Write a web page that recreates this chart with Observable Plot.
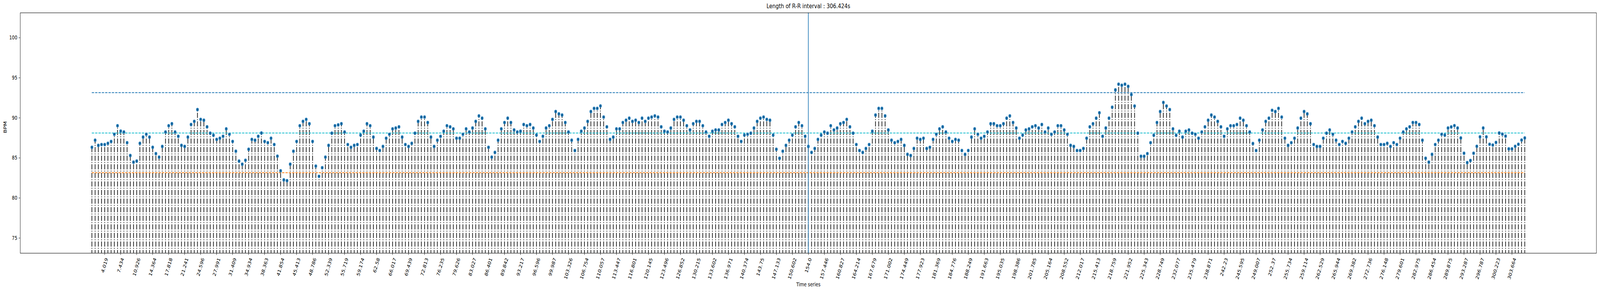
<!DOCTYPE html>
<html>
<head>
<meta charset="utf-8">
<script src="https://cdn.jsdelivr.net/npm/d3@7"></script>
<script src="https://cdn.jsdelivr.net/npm/@observablehq/plot@0.6"></script>
<style>
  html, body { margin: 0; padding: 0; background: #fff; width: 100%; height: 100%; overflow: hidden; }
  body { font-family: "DejaVu Sans", sans-serif; }
  ::-webkit-scrollbar { display: none; }
  #chart { width: 100vw; height: 100vh; }
  #chart svg { display: block; }
</style>
</head>
<body>
<div id="chart"></div>
<script>
// ---------- data ----------
const titleText = "Length of R-R interval : 306.424s";
const xLabel = "Time series";
const yLabel = "BPM";

// heart rate (BPM) of each beat, in order
const bpm = [
  86.33, 87.21, 86.57, 86.67, 86.67, 86.82, 87.05, 87.95, 89.02, 88.35,
  88.24, 86.90, 85.30, 84.47, 84.61, 86.82, 87.60, 87.95, 87.60, 86.33,
  85.54, 85.10, 86.43, 88.24, 89.02, 89.27, 88.24, 87.70, 86.57, 86.43,
  87.60, 89.17, 89.56, 91.03, 89.81, 89.71, 88.88, 88.09, 87.83, 87.31,
  87.46, 87.70, 88.63, 87.95, 87.06, 85.84, 84.61, 84.22, 84.71, 86.08,
  87.31, 87.21, 87.70, 88.11, 87.06, 86.90, 87.46, 86.67, 85.22, 83.39,
  82.26, 82.16, 84.22, 85.84, 87.06, 89.02, 89.56, 89.81, 89.27, 87.06,
  83.98, 82.70, 83.78, 85.10, 86.57, 88.09, 89.02, 89.12, 89.27, 88.24,
  86.67, 86.33, 86.57, 86.67, 87.85, 88.34, 89.27, 89.02, 87.60, 86.18,
  85.92, 86.43, 87.46, 87.95, 88.63, 88.73, 88.88, 87.60, 86.67, 86.43,
  86.82, 88.09, 89.56, 90.10, 90.10, 89.42, 87.60, 86.43, 87.21, 87.70,
  88.34, 89.02, 88.88, 88.63, 87.46, 87.46, 87.95, 88.63, 88.24, 88.73,
  89.56, 90.25, 89.96, 88.63, 86.33, 85.10, 85.69, 87.21, 88.63, 89.42,
  89.96, 89.42, 88.49, 88.24, 88.34, 89.17, 89.02, 89.17, 88.73, 87.85,
  87.06, 87.70, 88.73, 89.02, 89.81, 90.79, 90.50, 90.35, 89.42, 88.24,
  87.21, 85.92, 87.31, 88.34, 88.73, 89.56, 90.79, 91.18, 91.18, 91.49,
  90.10, 88.88, 87.31, 87.60, 88.63, 88.63, 89.42, 89.71, 89.96, 89.56,
  89.71, 89.42, 89.96, 89.56, 89.96, 90.10, 90.25, 90.10, 88.88, 88.34,
  88.24, 88.73, 89.81, 90.10, 90.10, 89.71, 89.02, 88.49, 89.27, 89.56,
  89.56, 89.02, 88.24, 87.70, 88.34, 88.49, 88.49, 89.17, 89.42, 89.71,
  89.27, 88.88, 87.70, 87.06, 87.85, 87.95, 88.09, 88.73, 89.56, 89.96,
  90.10, 89.81, 89.71, 87.85, 86.08, 84.96, 85.84, 86.57, 87.21, 87.85,
  88.88, 89.42, 89.02, 87.70, 86.43, 85.69, 86.18, 87.31, 87.85, 88.24,
  88.09, 89.02, 88.49, 88.73, 89.27, 89.42, 89.81, 88.88, 88.09, 86.67,
  85.92, 85.69, 86.18, 86.67, 88.34, 90.35, 91.18, 91.18, 90.25, 88.49,
  87.21, 86.90, 87.06, 87.31, 86.57, 85.45, 85.30, 86.18, 87.46, 87.31,
  87.46, 86.18, 86.33, 87.31, 87.95, 88.63, 88.88, 88.24, 87.46, 87.06,
  87.31, 87.21, 85.92, 85.45, 85.92, 87.60, 88.63, 87.95, 87.46, 87.70,
  88.24, 89.27, 89.27, 89.02, 89.02, 89.27, 89.96, 90.25, 89.42, 88.73,
  87.46, 87.85, 88.49, 88.63, 88.88, 89.02, 88.73, 89.17, 88.24, 88.73,
  87.95, 88.24, 89.02, 89.02, 88.49, 87.95, 86.57, 86.43, 85.92, 85.92,
  86.18, 87.46, 88.88, 89.27, 89.96, 90.64, 87.70, 88.73, 89.96, 91.33,
  93.49, 94.20, 94.07, 94.20, 93.93, 92.90, 91.48, 88.09, 85.20, 85.20,
  85.54, 86.90, 87.83, 89.42, 90.79, 91.92, 91.48, 91.03, 88.63, 87.83,
  88.34, 87.60, 88.34, 88.49, 88.09, 87.95, 87.46, 88.24, 88.88, 89.71,
  90.35, 90.10, 89.56, 88.88, 87.70, 88.63, 89.02, 89.02, 89.17, 89.96,
  89.71, 89.02, 88.24, 86.80, 85.92, 87.21, 88.49, 89.56, 89.96, 90.94,
  90.79, 91.18, 90.10, 87.46, 86.57, 86.90, 87.46, 88.73, 89.96, 90.79,
  90.50, 89.27, 86.67, 86.43, 86.43, 87.46, 88.09, 88.49, 87.95, 87.21,
  86.67, 87.06, 86.82, 87.46, 88.24, 88.88, 89.56, 89.96, 89.27, 89.56,
  89.71, 89.02, 87.60, 86.67, 86.67, 86.82, 86.43, 86.90, 86.67, 87.46,
  88.24, 88.63, 88.88, 89.42, 89.42, 89.17, 87.21, 84.96, 84.47, 85.45,
  86.67, 87.21, 87.95, 87.85, 88.73, 88.87, 89.03, 88.73, 87.49, 85.58,
  84.42, 84.68, 85.58, 86.45, 87.63, 88.73, 87.63, 86.70, 86.61, 86.93,
  88.11, 87.97, 87.72, 86.13, 86.13, 86.45, 86.70, 87.23, 87.49
];

// time (s) labels shown under every 5th beat, starting with the 5th beat
const tickLabels = [
  "4.019", "7.434", "10.926", "14.364", "17.818", "21.241", "24.596", "27.991", "31.409", "34.934",
  "38.363", "41.854", "45.413", "48.786", "52.339", "55.719", "59.174", "62.58", "66.017", "69.439",
  "72.813", "76.235", "79.626", "83.027", "86.401", "89.842", "93.217", "96.596", "99.987", "103.326",
  "106.754", "110.057", "113.447", "116.801", "120.145", "123.496", "126.852", "130.215", "133.602", "136.971",
  "140.374", "143.75", "147.133", "150.602", "154.0", "157.446", "160.827", "164.214", "167.679", "171.002",
  "174.449", "177.923", "181.369", "184.776", "188.249", "191.663", "195.035", "198.386", "201.785", "205.164",
  "208.552", "212.017", "215.413", "218.759", "221.952", "225.343", "228.749", "232.077", "235.479", "238.871",
  "242.23", "245.595", "249.007", "252.37", "255.734", "259.114", "262.529", "265.944", "269.382", "272.736",
  "276.148", "279.601", "282.975", "286.454", "289.875", "293.287", "296.787", "300.223", "303.664"
];
const tickFirstBeat = 4;
const tickEvery = 5;

// vertical marker at this time label
const markerLabel = "154.0";

// horizontal reference levels (upper, mean, lower) and their colours
const refLevels = [93.15, 88.11, 83.16];
const refColors = ["#1f77b4", "#17becf", "#ff7f0e"];

const yTicks = [75, 80, 85, 90, 95, 100];
const yDomain = [73.11, 103.11];

// ---------- chart ----------
const W = 5271, H = 746;
const n = bpm.length;
const beats = d3.range(n);
const ticks = tickLabels.map((label, k) => ({i: tickFirstBeat + tickEvery * k, label}));
const markerBeat = ticks.find(t => t.label === markerLabel).i;

const fs = 13.9;
const lw = 2.08;

const labelMarks = d3.groups(ticks, d => d.label.length).map(([len, arr]) => {
  const digits = arr[0].label.replace(".", "").length;
  const L = (digits * 0.636 + 0.318) * fs; // text length in px
  return Plot.text(arr, {
    x: "i", y: () => yDomain[0], text: "label",
    rotate: -70, textAnchor: "end", lineAnchor: "middle",
    dx: L * 0.171, dy: 12.6, fontSize: fs, fill: "black"
  });
});

const refMarks = refLevels.map((v, k) =>
  Plot.ruleY([v], {y: d => d, x1: 0, x2: n - 1, stroke: refColors[k],
    strokeWidth: lw, strokeDasharray: "7.7,3.3"})
);

const chart = Plot.plot({
  width: W,
  height: H,
  marginLeft: 66.3,
  marginRight: 12.3,
  marginTop: 32.4,
  marginBottom: 97.4,
  style: {fontFamily: "DejaVu Sans", fontSize: "13.9px", color: "black", background: "white"},
  x: {type: "linear", domain: [-(n - 1) * 0.05, (n - 1) * 1.05]},
  y: {domain: yDomain},
  marks: [
    Plot.ruleX(beats, {x: d => d, y1: () => 0, y2: i => bpm[i], stroke: "black",
      strokeWidth: lw, strokeDasharray: "13.3,3.3,2.1,3.3", clip: true}),
    ...refMarks,
    Plot.dot(beats, {x: d => d, y: i => bpm[i], r: 4.4, fill: "#1f77b4"}),
    Plot.dot(beats, {x: d => d, y: i => bpm[i], r: 0.9, fill: "black"}),
    Plot.ruleX([markerBeat], {x: d => d, stroke: "#1f77b4", strokeWidth: lw}),
    Plot.frame({stroke: "black", strokeWidth: 1.1}),
    Plot.axisY({ticks: yTicks, tickSize: 4.9, tickPadding: 4.9, fontSize: fs, label: null}),
    Plot.axisX({ticks: ticks.map(t => t.i), tickSize: 4.9, tickFormat: () => "", label: null}),
    ...labelMarks,
    Plot.text([titleText], {text: d => d, frameAnchor: "top", dy: -17.5, lineAnchor: "middle", fontSize: 16.7, fill: "black"}),
    Plot.text([xLabel], {text: d => d, frameAnchor: "bottom", dy: 80.5, lineAnchor: "middle", fontSize: fs, fill: "black"}),
    Plot.text([yLabel], {text: d => d, frameAnchor: "left", dx: -49.7, rotate: -90, lineAnchor: "middle", fontSize: fs, fill: "black"})
  ]
});
// fit the 5271x746 drawing to whatever viewport the page is given
chart.setAttribute("viewBox", `0 0 ${W} ${H}`);
chart.setAttribute("preserveAspectRatio", "none");
chart.style.width = "100vw";
chart.style.height = "100vh";
chart.style.maxWidth = "none";
document.getElementById("chart").appendChild(chart);
</script>
</body>
</html>
